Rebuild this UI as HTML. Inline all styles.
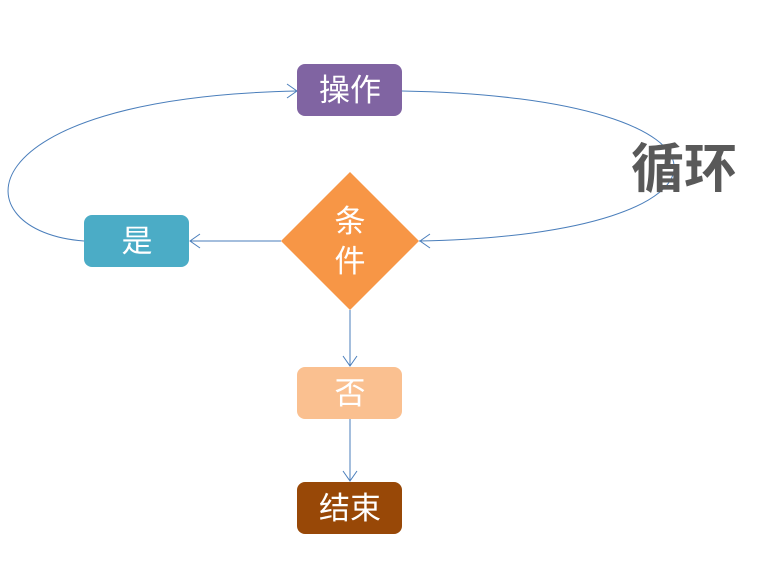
<!DOCTYPE html>
<html><head><meta charset="utf-8"><style>
body{margin:0;width:771px;height:583px;background:#fff;overflow:hidden}
svg{display:block}
text{font-family:"Liberation Sans","Noto Sans CJK SC",sans-serif}
</style></head><body>
<svg width="771" height="583" viewBox="0 0 771 583">
<g fill="none" stroke="#4a7ebb" stroke-width="1">
<path d="M402,91 C762,97 762,235 419,241"/>
<path d="M430,234 L420,241 L430,248"/>
<path d="M84,241 C-40,232 -40,98 297,91"/>
<path d="M287,84 L297,91 L287,98"/>
<path d="M281,241 L190,241"/>
<path d="M200,234 L190,241 L200,248"/>
<path d="M350,310 L350,366"/>
<path d="M343,356 L350,366 L357,356"/>
<path d="M350,419 L350,481"/>
<path d="M343,471 L350,481 L357,471"/>
</g>
<rect x="297" y="64" width="105" height="52" rx="8" fill="#8064a2"/>
<rect x="84" y="215" width="105" height="52" rx="8" fill="#4bacc6"/>
<rect x="297" y="367" width="105" height="52" rx="8" fill="#fac090"/>
<rect x="297" y="482" width="105" height="52" rx="8" fill="#984807"/>
<polygon points="350,172 419,241 350,310 281,241" fill="#f79646"/>
<g fill="#fff" font-size="31" text-anchor="middle">
<text x="350" y="101">操作</text>
<text x="137" y="252">是</text>
<text x="350" y="404">否</text>
<text x="350" y="519">结束</text>
<text x="350" y="232">条</text>
<text x="350" y="272">件</text>
</g>
<text x="684" y="187" font-size="53" font-weight="bold" fill="#595959" text-anchor="middle">循环</text>
</svg>
</body></html>
